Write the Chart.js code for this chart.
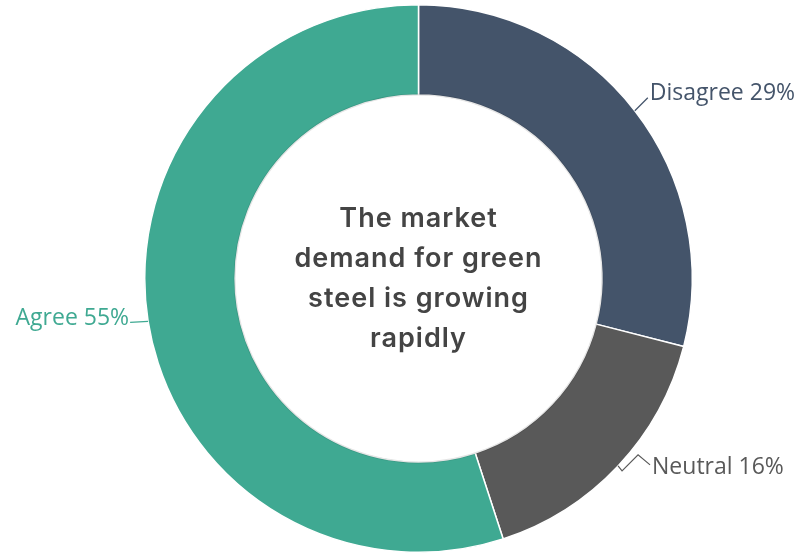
<!DOCTYPE html>
<html>
<head>
<meta charset="utf-8">
<script src="https://cdn.jsdelivr.net/npm/chart.js@4/dist/chart.umd.min.js"></script>
<style>
  html, body { margin: 0; padding: 0; background: #ffffff; }
  #wrap { width: 804px; height: 554px; position: relative; }
</style>
</head>
<body>
<div id="wrap"><canvas id="c" width="804" height="554"></canvas></div>
<script>
// Survey answers, clockwise from 12 o'clock
const categories = ['Disagree', 'Neutral', 'Agree'];
const shares = [29, 16, 55];
const sliceColors = ['#44546a', '#595959', '#3fa992'];
const centerTitle = ['The market', 'demand for green', 'steel is growing', 'rapidly'];

// Where each label sits relative to the slice's outer mid point, and the leader path
const labelStyles = [
  { side: 'right', path: [[0, 0], [13, -13]], text: [15, -17] },
  { side: 'right', path: [[0, 0], [4, 5], [20, -11], [32, -1]], text: [34, 2] },
  { side: 'left',  path: [[0, 0], [-18, 1]], text: [-19, -3] }
];

const centerText = {
  id: 'centerText',
  afterDatasetsDraw(chart) {
    const meta = chart.getDatasetMeta(0);
    const arc = meta.data[0];
    const { x, y, innerRadius } = arc.getProps(['x', 'y', 'innerRadius'], true);
    const ctx = chart.ctx;
    ctx.save();
    // soft rim inside the ring
    ctx.beginPath();
    ctx.arc(x, y, innerRadius + 0.5, 0, Math.PI * 2);
    ctx.strokeStyle = 'rgba(0,0,0,0.10)';
    ctx.lineWidth = 2;
    ctx.stroke();
    ctx.fillStyle = '#444444';
    ctx.font = '600 27px Inter, "Open Sans", sans-serif';
    if ('letterSpacing' in ctx) ctx.letterSpacing = '1px';
    ctx.textAlign = 'center';
    ctx.textBaseline = 'middle';
    const lh = 40;
    const top = y - lh * (centerTitle.length - 1) / 2;
    centerTitle.forEach((line, i) => ctx.fillText(line, x, top + i * lh));
    ctx.restore();
  }
};

const sliceLabels = {
  id: 'sliceLabels',
  afterDatasetsDraw(chart) {
    const meta = chart.getDatasetMeta(0);
    const ctx = chart.ctx;
    ctx.save();
    ctx.font = '23px "Open Sans", "Noto Sans", sans-serif';
    ctx.textBaseline = 'middle';
    meta.data.forEach((arc, i) => {
      const p = arc.getProps(['x', 'y', 'startAngle', 'endAngle', 'outerRadius'], true);
      const mid = (p.startAngle + p.endAngle) / 2;
      const ax = p.x + Math.cos(mid) * p.outerRadius;
      const ay = p.y + Math.sin(mid) * p.outerRadius;
      const st = labelStyles[i];
      ctx.strokeStyle = sliceColors[i];
      ctx.lineWidth = 1.2;
      ctx.beginPath();
      st.path.forEach(([dx, dy], k) => {
        if (k === 0) ctx.moveTo(ax + dx, ay + dy); else ctx.lineTo(ax + dx, ay + dy);
      });
      ctx.stroke();
      ctx.fillStyle = sliceColors[i];
      ctx.textAlign = st.side === 'right' ? 'left' : 'right';
      ctx.fillText(categories[i] + ' ' + shares[i] + '%', ax + st.text[0], ay + st.text[1]);
    });
    ctx.restore();
  }
};

new Chart(document.getElementById('c'), {
  type: 'doughnut',
  data: {
    labels: categories,
    datasets: [{
      data: shares,
      backgroundColor: sliceColors,
      borderColor: '#ffffff',
      borderWidth: 1.5
    }]
  },
  options: {
    responsive: false,
    animation: false,
    cutout: '67%',
    layout: { padding: { top: 4, bottom: 1, left: 33, right: 0 } },
    plugins: {
      legend: { display: false },
      tooltip: { enabled: false }
    }
  },
  plugins: [centerText, sliceLabels]
});
</script>
</body>
</html>
